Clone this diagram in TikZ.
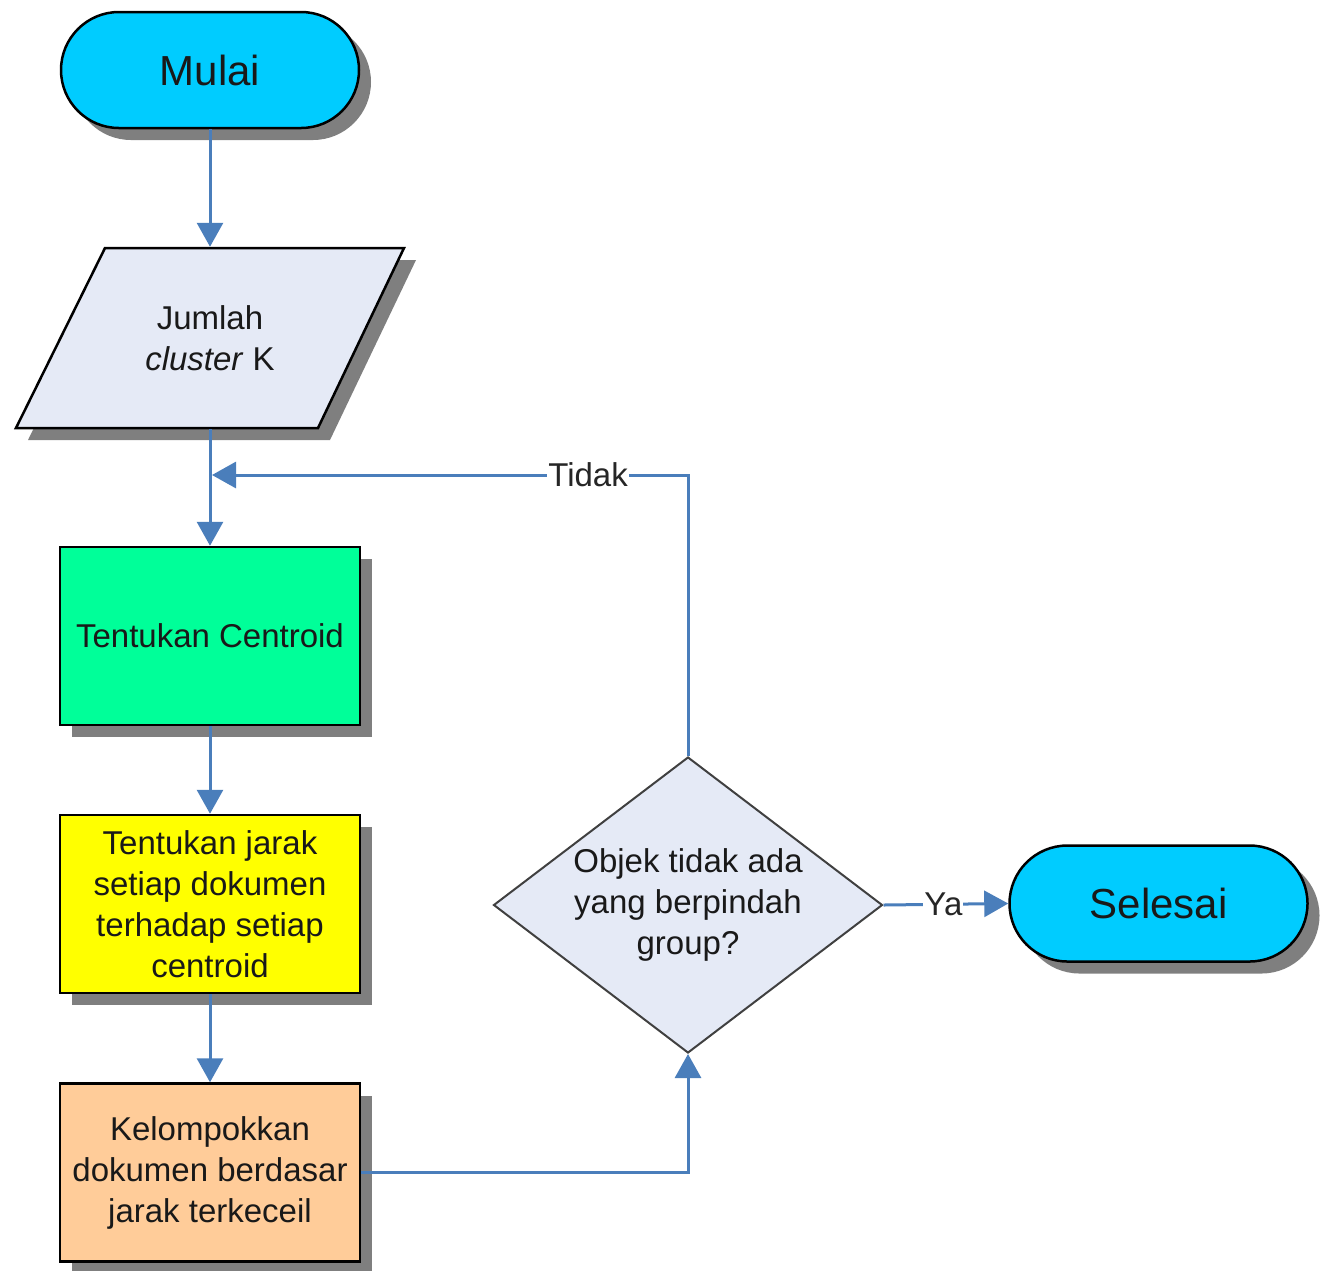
\documentclass[tikz,border=0pt]{standalone}
\usepackage{fontspec}
\setmainfont{Liberation Sans}
\usetikzlibrary{arrows.meta,shapes.geometric,shadows}
\definecolor{flowline}{HTML}{4A7EBB}
\definecolor{shadowgray}{HTML}{7F7F7F}
\definecolor{termcyan}{HTML}{00CCFF}
\definecolor{inputfill}{HTML}{E5EAF6}
\definecolor{stepgreen}{HTML}{00FF99}
\definecolor{stepyellow}{HTML}{FFFF00}
\definecolor{steporange}{HTML}{FFCC99}
\begin{document}
\begin{tikzpicture}[x=1pt,y=-1pt,
  base/.style={draw=black, line width=2.5pt, align=center, inner sep=0pt,
    text=black!90, font=\fontsize{33}{41}\selectfont},
  shade/.style={drop shadow={shadow xshift=12pt, shadow yshift=-12pt,
    fill=shadowgray, opacity=1}},
  terminal/.style={base, shade, rectangle, rounded corners=58pt,
    minimum width=298pt, minimum height=116pt, fill=termcyan,
    font=\fontsize{42}{50}\selectfont},
  process/.style={base, shade, rectangle, minimum width=300pt,
    minimum height=178pt},
  ioframe/.style={draw=black, line width=2.5pt, fill=inputfill, shade,
    line join=miter},
  iotext/.style={base, draw=none, rectangle, minimum width=302pt,
    minimum height=180pt},
  decision/.style={base, diamond, shape aspect=1.314, draw=black!75,
    line width=2pt, minimum width=389pt, minimum height=296pt,
    fill=inputfill},
  flow/.style={draw=flowline, line width=3pt,
    -{Triangle[length=24pt,width=26pt]}},
  lbl/.style={fill=white, inner sep=1pt, text=black!85,
    font=\fontsize{33}{41}\selectfont}]
  \useasboundingbox (0,0) rectangle (1324,1270);

  % input parallelogram outline, text node on top
  \path[ioframe] (105,248) -- (404,248) -- (318,428) -- (16,428) -- cycle;

  % process chain
  \node[terminal] (start) at (210,70) {Mulai};
  \node[iotext] (input) at (210,338) {Jumlah\\\textit{cluster} K};
  \node[process, fill=stepgreen] (centroid) at (210,636) {Tentukan Centroid};
  \node[process, fill=stepyellow] (dist) at (210,904)
    {Tentukan jarak\\setiap dokumen\\terhadap setiap\\centroid};
  \node[process, fill=steporange] (group) at (210,1172.5)
    {Kelompokkan\\dokumen berdasar\\jarak terkeceil};
  \node[decision] (dec) at (688,905)
    {Objek tidak ada\\yang berpindah\\group?};
  \node[terminal] (stop) at (1158.5,903.5) {Selesai};

  % loop-back point on the main line
  \coordinate (loop) at (212,475);

  % connectors
  \draw[flow] (start) -- (input);
  \draw[flow] (input) -- (centroid);
  \draw[flow] (centroid) -- (dist);
  \draw[flow] (dist) -- (group);
  \draw[flow] (group.east) -| (dec.south);
  \draw[flow] (dec.north) |- node[lbl, pos=0.605] {Tidak} (loop);
  \draw[flow] (dec.east) -- node[lbl, pos=0.48] {Ya} (stop.west);
\end{tikzpicture}
\end{document}
